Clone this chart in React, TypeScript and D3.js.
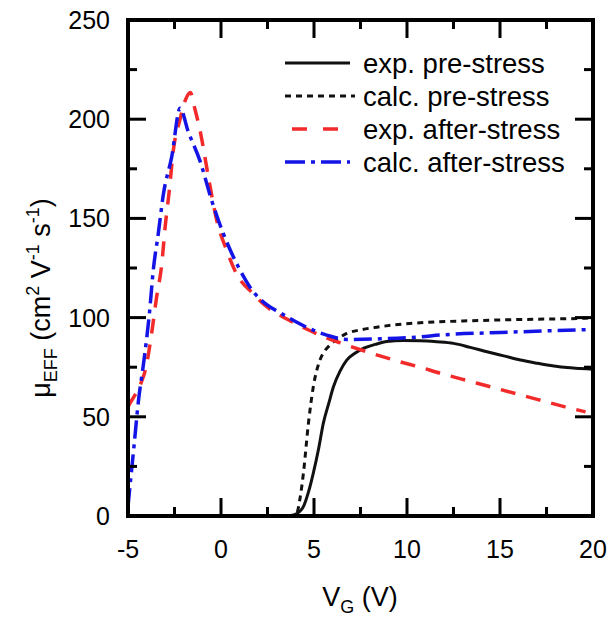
import React, { useEffect, useRef } from 'react';
import * as d3 from 'd3';

// exp. pre-stress (solid black)
const vgExpPre = [3.6, 3.9, 4.2, 4.43, 4.7, 4.96, 5.25, 5.5, 5.8, 6.04, 6.4, 6.76, 7.2, 7.65, 8.3, 8.9, 9.8, 10.7, 11.6, 12.5, 13.4, 14.3, 15.2, 16.1, 17.0, 17.9, 18.6, 19.3, 20];
const muExpPre = [0, 0.5, 2, 4.7, 12, 21.5, 34, 46.7, 57, 65, 73, 78.6, 82, 84.5, 86.5, 87.9, 88.4, 88.3, 87.8, 87, 85, 82.8, 80.7, 78.6, 77, 75.6, 74.8, 74.4, 74];

// calc. pre-stress (black dotted)
const vgCalcPre = [3.6, 3.9, 4.07, 4.25, 4.43, 4.7, 4.96, 5.32, 5.6, 5.86, 6.3, 6.76, 7.6, 8.55, 9.8, 11.06, 13, 15, 17, 19.3, 20];
const muCalcPre = [0, 0.3, 1.3, 9, 21.5, 46.7, 65, 78.6, 83.5, 86.2, 89.5, 92, 94, 95.4, 96.8, 97.6, 98.3, 98.8, 99.2, 99.6, 100];

// exp. after-stress (red dashed)
const vgExpAfter = [-5, -4.9, -4.62, -4.3, -4.03, -3.73, -3.46, -3.19, -3.0, -2.78, -2.56, -2.2, -1.9, -1.65, -1.4, -1.13, -0.68, -0.23, 0.3, 0.84, 1.74, 2.46, 3.2, 4.0, 5.0, 5.5, 6.5, 7.83, 9.45, 10.7, 11.77, 13.5, 15, 17, 18.5, 19.6];
const muExpAfter = [55, 56.8, 61, 67, 75, 92, 110.5, 126.5, 146, 164, 184.5, 200, 210, 213.5, 205, 194.5, 171, 149, 134, 122, 112, 105.5, 101, 97, 92.5, 90.4, 87, 82.8, 78.2, 75, 72, 67.6, 63.8, 58.8, 55, 52.5];

// calc. after-stress (blue dash-dot)
const vgCalcAfter = [-5, -4.93, -4.68, -4.45, -4.14, -3.85, -3.64, -3.37, -3.1, -2.65, -2.2, -1.76, -1.13, -0.5, 0.12, 0.93, 1.74, 2.46, 3.17, 4.0, 5.0, 5.68, 6.76, 8.55, 10.7, 11.77, 15, 17.5, 20];
const muCalcAfter = [5, 11.6, 35, 57, 78.6, 102, 124, 142.5, 162, 181, 205.5, 193.7, 179, 159, 142.5, 125.6, 113, 106.5, 102.5, 98, 93.5, 91.2, 89, 89.3, 90.3, 91.2, 92.5, 93.3, 94];

const xTicks = [-5, 0, 5, 10, 15, 20];
const xMinor = [-2.5, 2.5, 7.5, 12.5, 17.5];
const yTicks = [0, 50, 100, 150, 200, 250];
const yMinor = [25, 75, 125, 175, 225];

const legendLabels = ['exp. pre-stress', 'calc. pre-stress', 'exp. after-stress', 'calc. after-stress'];

const FONT = '"Liberation Sans", Arial, sans-serif';

const App = () => {
  const svgRef = useRef(null);

  useEffect(() => {
    const svg = d3.select(svgRef.current);
    svg.selectAll('*').remove();

    const width = 608;
    const height = 624;
    const margin = { top: 20, right: 15, bottom: 108, left: 128 };
    const x0 = margin.left, x1 = width - margin.right;
    const y0 = height - margin.bottom, y1 = margin.top;

    svg.attr('width', width).attr('height', height);

    const x = d3.scaleLinear().domain([-5, 20]).range([x0, x1]);
    const y = d3.scaleLinear().domain([0, 250]).range([y0, y1]);

    const series = [
      { vg: vgExpPre, mu: muExpPre, color: '#111', width: 3, dash: null },
      { vg: vgCalcPre, mu: muCalcPre, color: '#111', width: 3, dash: '6,5' },
      { vg: vgExpAfter, mu: muExpAfter, color: '#f22a2a', width: 3.5, dash: '15,11' },
      { vg: vgCalcAfter, mu: muCalcAfter, color: '#1414e6', width: 3.5, dash: '18,6,4,6' },
    ];

    const line = d3.line()
      .x(d => x(d[0]))
      .y(d => y(d[1]))
      .curve(d3.curveMonotoneX);

    series.forEach(s => {
      const pts = s.vg.map((v, i) => [v, s.mu[i]]);
      svg.append('path')
        .attr('d', line(pts))
        .attr('fill', 'none')
        .attr('stroke', s.color)
        .attr('stroke-width', s.width)
        .attr('stroke-dasharray', s.dash);
    });

    // frame
    svg.append('rect')
      .attr('x', x0).attr('y', y1)
      .attr('width', x1 - x0).attr('height', y0 - y1)
      .attr('fill', 'none')
      .attr('stroke', '#000')
      .attr('stroke-width', 4);

    const major = 18, minor = 9;
    const tickG = svg.append('g').attr('stroke', '#000').attr('stroke-width', 3);

    const addX = (vals, len) => vals.forEach(v => {
      tickG.append('line').attr('x1', x(v)).attr('x2', x(v)).attr('y1', y0).attr('y2', y0 - len);
      tickG.append('line').attr('x1', x(v)).attr('x2', x(v)).attr('y1', y1).attr('y2', y1 + len);
    });
    const addY = (vals, len) => vals.forEach(v => {
      tickG.append('line').attr('y1', y(v)).attr('y2', y(v)).attr('x1', x0).attr('x2', x0 + len);
      tickG.append('line').attr('y1', y(v)).attr('y2', y(v)).attr('x1', x1).attr('x2', x1 - len);
    });
    addX(xTicks.slice(1, -1), major);
    addX(xMinor, minor);
    addY(yTicks.slice(1, -1), major);
    addY(yMinor, minor);

    // tick labels
    svg.append('g').selectAll('text')
      .data(xTicks).enter().append('text')
      .attr('x', d => x(d))
      .attr('y', y0 + 42)
      .attr('text-anchor', 'middle')
      .style('font-family', FONT)
      .style('font-size', '25px')
      .text(d => d);

    svg.append('g').selectAll('text')
      .data(yTicks).enter().append('text')
      .attr('x', x0 - 18)
      .attr('y', d => y(d) + 9)
      .attr('text-anchor', 'end')
      .style('font-family', FONT)
      .style('font-size', '25px')
      .text(d => d);

    // x axis title
    const xt = svg.append('text')
      .attr('x', 360).attr('y', 606)
      .attr('text-anchor', 'middle')
      .style('font-family', FONT)
      .style('font-size', '27px');
    xt.append('tspan').text('V');
    xt.append('tspan').attr('dy', 7).style('font-size', '18px').text('G');
    xt.append('tspan').attr('dy', -7).text(' (V)');

    // y axis title
    const yt = svg.append('text')
      .attr('transform', 'translate(50, 298) rotate(-90)')
      .attr('text-anchor', 'middle')
      .style('font-family', FONT)
      .style('font-size', '27px');
    yt.append('tspan').text('\u03bc');
    yt.append('tspan').attr('dy', 7).style('font-size', '18px').text('EFF');
    yt.append('tspan').attr('dy', -7).text(' (cm');
    yt.append('tspan').attr('dy', -11).style('font-size', '18px').text('2');
    yt.append('tspan').attr('dy', 11).text(' V');
    yt.append('tspan').attr('dy', -11).style('font-size', '18px').text('-1');
    yt.append('tspan').attr('dy', 11).text(' s');
    yt.append('tspan').attr('dy', -11).style('font-size', '18px').text('-1');
    yt.append('tspan').attr('dy', 11).text(')');

    // legend
    const legend = svg.append('g')
      .selectAll('.legend')
      .data(series)
      .enter().append('g')
      .attr('class', 'legend')
      .attr('transform', (d, i) => `translate(285, ${63 + i * 33})`);

    legend.append('line')
      .attr('x1', (d, i) => (i === 2 ? 7 : 0))
      .attr('x2', (d, i) => (i === 1 ? 70 : 65))
      .attr('y1', 0).attr('y2', 0)
      .attr('stroke', d => d.color)
      .attr('stroke-width', d => d.width)
      .attr('stroke-dasharray', (d, i) => (i === 2 ? '15,16' : i === 3 ? '20,6,4,6' : d.dash));

    legend.append('text')
      .attr('x', 78)
      .attr('y', 10)
      .style('font-family', FONT)
      .style('font-size', '27.5px')
      .text((d, i) => legendLabels[i]);
  }, []);

  return <svg ref={svgRef} style={{ position: 'absolute', left: 0, top: 0, background: '#fff' }}></svg>;
};

export default App;
